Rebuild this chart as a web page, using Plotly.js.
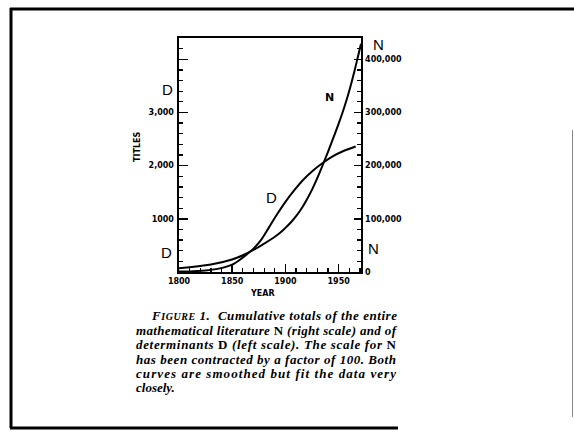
<!DOCTYPE html>
<html>
<head>
<meta charset="utf-8">
<script src="https://cdn.plot.ly/plotly-3.0.1.min.js"></script>
<style>html,body{margin:0;padding:0;background:#fff;}#chart{width:574px;height:432px;}</style>
</head>
<body>
<div id="chart"></div>
<script>
// Determinants D (left scale, titles)
var yearsD = [1800, 1830, 1850, 1861, 1870, 1877, 1884, 1892, 1900, 1908, 1917, 1926, 1935, 1944, 1954, 1966];
var valuesD = [10, 40, 140, 290, 440, 600, 820, 1080, 1320, 1530, 1740, 1910, 2050, 2170, 2270, 2360];
// Entire mathematical literature N (right scale, titles)
var yearsN = [1800, 1830, 1849, 1861, 1870, 1877, 1892, 1900, 1905, 1910, 1915, 1920, 1925, 1930, 1935, 1940, 1945, 1950, 1955, 1960, 1965, 1968, 1971];
var valuesN = [7000, 14000, 23000, 32500, 41500, 49500, 69000, 83000, 93000, 105000, 119000, 136000, 155000, 177000, 201000, 226000, 252000, 279000, 308000, 341000, 379000, 404000, 429000];

var xTickVals = [1800, 1850, 1900, 1950];
var xTickText = ["1800", "1850", "1900", "1950"];
var leftTickVals = [1000, 2000, 3000, 4000];
var leftTickText = ["1000", "2,000", "3,000", ""];
var rightTickVals = [0, 100000, 200000, 300000, 400000];
var rightTickText = ["0", "100,000", "200,000", "300,000", "400,000"];

var captionLines = [
  "F<span style=\"font-size:10px\">IGURE</span> 1.  Cumulative totals of the entire",
  "mathematical literature <span style=\"font-style:normal\">N</span> (right scale) and of",
  "determinants <span style=\"font-style:normal\">D</span> (left scale). The scale for <span style=\"font-style:normal\">N</span>",
  "has been contracted by a factor of 100. Both",
  "curves are smoothed but fit the data very",
  "closely."
];

// layout geometry (pixels)
var L = 179, R = 361, T = 38, B = 272;
function px(x) { return (x - L) / (R - L); }
function py(y) { return (B - y) / (B - T); }

var tickFont = {family: "DejaVu Sans", size: 8, color: "#000", weight: "bold"};
var letterFont = {family: "Liberation Sans", size: 15, color: "#000"};

var traces = [
  {x: yearsD, y: valuesD, type: "scatter", mode: "lines", yaxis: "y",
   line: {color: "#000", width: 2, shape: "spline", smoothing: 1}, hoverinfo: "none"},
  {x: yearsN, y: valuesN, type: "scatter", mode: "lines", yaxis: "y2",
   line: {color: "#000", width: 2, shape: "spline", smoothing: 1}, hoverinfo: "none"}
];

var capY = [315, 330, 344.5, 359, 373, 387];
var capX = [150, 135, 135, 135, 135, 135];
var annotations = captionLines.map(function (t, i) {
  return {text: t, xref: "paper", yref: "paper", x: px(capX[i]), y: py(capY[i]),
    xanchor: "left", yanchor: "middle", showarrow: false, borderpad: 0,
    font: {family: "Liberation Serif", size: 13, color: "#000", style: "italic", weight: "bold"}};
});
function lab(t, x, y, f, extra) {
  var a = {text: t, xref: "paper", yref: "paper", x: px(x), y: py(y), xanchor: "center", yanchor: "middle",
    showarrow: false, borderpad: 0, font: f};
  if (extra) { for (var k in extra) a[k] = extra[k]; }
  return a;
}
annotations.push(
  lab("D", 167, 89, letterFont),
  lab("D", 166, 252, letterFont),
  lab("N", 378, 44, letterFont),
  lab("N", 373, 248, letterFont),
  lab("D", 271, 197, letterFont),
  lab("N", 329, 97, {family: "DejaVu Sans", size: 11, color: "#000", weight: "bold"}),
  lab("TITLES", 137, 147, {family: "DejaVu Sans", size: 8, color: "#000", weight: "bold"}, {textangle: -90}),
  lab("YEAR", 262, 293, {family: "DejaVu Sans", size: 8, color: "#000", weight: "bold"})
);

var shapes = [
  {type: "line", xref: "paper", yref: "paper", x0: px(10), x1: px(574), y0: py(9), y1: py(9), line: {color: "#000", width: 3}},
  {type: "line", xref: "paper", yref: "paper", x0: px(11), x1: px(11), y0: py(8), y1: py(428), line: {color: "#000", width: 3}},
  {type: "line", xref: "paper", yref: "paper", x0: px(10), x1: px(398), y0: py(428), y1: py(428), line: {color: "#000", width: 3}},
  {type: "line", xref: "paper", yref: "paper", x0: px(572.5), x1: px(572.5), y0: py(130), y1: py(417), line: {color: "#888", width: 1}}
];

var layout = {
  width: 574, height: 432,
  margin: {l: L, r: 574 - R, t: T, b: 432 - B, pad: 0},
  paper_bgcolor: "#fff", plot_bgcolor: "#fff",
  showlegend: false,
  xaxis: {range: [1800, 1971], showgrid: false, zeroline: false,
    showline: true, linecolor: "#000", linewidth: 2, mirror: true,
    tickmode: "array", tickvals: xTickVals, ticktext: xTickText,
    ticks: "inside", ticklen: 8, tickwidth: 1.5, tickcolor: "#000", tickfont: tickFont,
    minor: {dtick: 10, tick0: 1800, ticks: "inside", ticklen: 4, tickwidth: 1.2, tickcolor: "#000", showgrid: false}},
  yaxis: {range: [0, 4400], showgrid: false, zeroline: false,
    showline: true, linecolor: "#000", linewidth: 2.5,
    tickmode: "array", tickvals: leftTickVals, ticktext: leftTickText,
    ticks: "inside", ticklen: 9, tickwidth: 1.5, tickcolor: "#000", tickfont: tickFont, ticklabelstandoff: 1,
    minor: {dtick: 200, tick0: 0, ticks: "inside", ticklen: 4, tickwidth: 1.2, tickcolor: "#000", showgrid: false}},
  yaxis2: {range: [0, 440000], overlaying: "y", side: "right", showgrid: false, zeroline: false,
    showline: true, linecolor: "#000", linewidth: 1.5,
    tickmode: "array", tickvals: rightTickVals, ticktext: rightTickText,
    ticks: "inside", ticklen: 7, tickwidth: 1.5, tickcolor: "#000", tickfont: tickFont, ticklabelstandoff: 1,
    minor: {dtick: 20000, tick0: 0, ticks: "inside", ticklen: 4, tickwidth: 1.2, tickcolor: "#000", showgrid: false}},
  annotations: annotations,
  shapes: shapes
};

Plotly.newPlot("chart", traces, layout, {staticPlot: true, displayModeBar: false}).then(function (gd) {
  // justify the caption's full lines to the right edge of the column, keeping each line's left edge
  var texts = gd.querySelectorAll(".annotation-text");
  var rightEdge = 396;
  var origin = gd.getBoundingClientRect().left;
  for (var i = 0; i < 5 && i < texts.length; i++) {
    var el = texts[i];
    var left0 = el.getBoundingClientRect().left - origin;
    var want = rightEdge - left0;
    var have = el.getComputedTextLength();
    if (want > have && want - have < 60) {
      el.setAttribute("textLength", want);
      el.setAttribute("lengthAdjust", "spacing");
      var left1 = el.getBoundingClientRect().left - origin;
      var prev = el.getAttribute("transform") || "";
      el.setAttribute("transform", prev + " translate(" + (left0 - left1) + ",0)");
    }
  }
});
</script>
</body>
</html>
